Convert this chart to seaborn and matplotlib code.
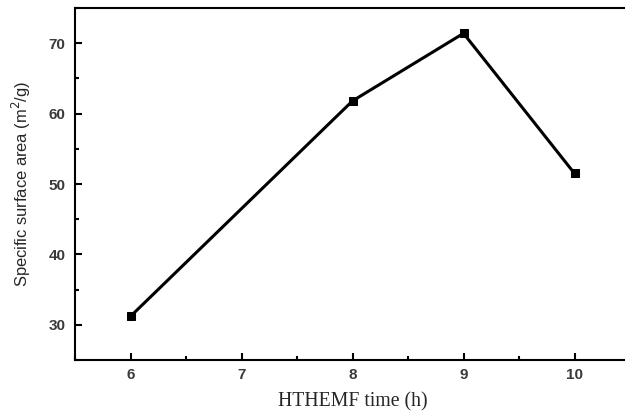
import matplotlib
matplotlib.use("Agg")
import matplotlib.pyplot as plt
from matplotlib.ticker import MultipleLocator
import pandas as pd
import seaborn as sns

# HTHEMF treatment time (h) and resulting specific surface area (m^2/g)
times = [6, 8, 9, 10]
surface_area = [31.2, 61.8, 71.4, 51.5]

df = pd.DataFrame({"time": times, "area": surface_area})

sns.set_style("ticks")
plt.rcParams["font.family"] = ["Liberation Sans", "DejaVu Sans"]

fig = plt.figure(figsize=(6.25, 4.12), dpi=100)
ax = fig.add_axes([75 / 625, 52 / 412, 555 / 625, 352 / 412])

sns.lineplot(data=df, x="time", y="area", ax=ax, color="black",
             linewidth=2.2, marker="s", markersize=5.5,
             markeredgecolor="black", markerfacecolor="black")

ax.set_xlim(5.5, 10.5)
ax.set_ylim(25, 75)
ax.xaxis.set_major_locator(MultipleLocator(1))
ax.xaxis.set_minor_locator(MultipleLocator(0.5))
ax.yaxis.set_major_locator(MultipleLocator(10))
ax.yaxis.set_minor_locator(MultipleLocator(5))

ax.tick_params(which="both", direction="in", top=False, right=False,
               width=1.5, colors="black", labelcolor="#3a3a3a")
ax.tick_params(which="major", length=5, labelsize=11)
ax.tick_params(axis="x", which="major", pad=6)
ax.tick_params(axis="y", which="major", pad=7)
ax.tick_params(which="minor", length=3)
for lbl in ax.get_xticklabels() + ax.get_yticklabels():
    lbl.set_fontweight("bold")

for side in ["left", "bottom", "top", "right"]:
    ax.spines[side].set_linewidth(1.5)
    ax.spines[side].set_color("black")

ax.set_xlabel("HTHEMF time (h)", fontsize=14.2, family="Liberation Serif",
              labelpad=7)
ax.set_ylabel("Specific surface area (m$^2$/g)", fontsize=11.9, labelpad=11)

fig.savefig("out.png", dpi=100)
